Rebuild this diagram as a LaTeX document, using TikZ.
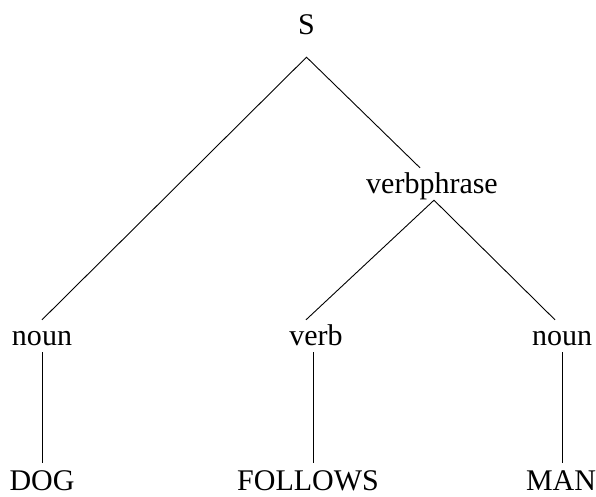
\documentclass[tikz,border=0pt]{standalone}
\usepackage{fontspec}
\setmainfont{Liberation Serif}

\tikzset{
  word/.style={font=\fontsize{30}{36}\selectfont, inner sep=0pt, anchor=base,
               text height=25pt, text depth=7pt},
  root/.style={word, text depth=23pt},
  leaf/.style={word, text height=27pt, text depth=0pt},
  branch/.style={black, line width=0.9pt}
}

\begin{document}
\begin{tikzpicture}[x=1pt,y=-1pt]
\useasboundingbox (0,0) rectangle (596,496);
\node [root] (S) at (306.5,34) {S};
\node [word] (vp) at (432,193) {verbphrase};
\node [word] (n1) at (42,345) {noun};
\node [word] (v) at (316,345) {verb};
\node [word] (n2) at (562,345) {noun};
\node [leaf] (dog) at (42,490) {DOG};
\node [leaf] (follows) at (308,490) {FOLLOWS};
\node [leaf] (man) at (561,490) {MAN};
\draw [branch] (n1.north) -- (S.south) -- ([xshift=-12pt]vp.north);
\draw [branch] ([xshift=-10pt]v.north) -- ([xshift=2pt]vp.south) -- ([xshift=-7pt]n2.north);
\draw [branch] (n1.south) -- (dog.north);
\draw [branch] ([xshift=-3pt]v.south) -- ([xshift=-3pt]v.south |- follows.north);
\draw [branch] (n2.south) -- (n2.south |- man.north);
\end{tikzpicture}
\end{document}
